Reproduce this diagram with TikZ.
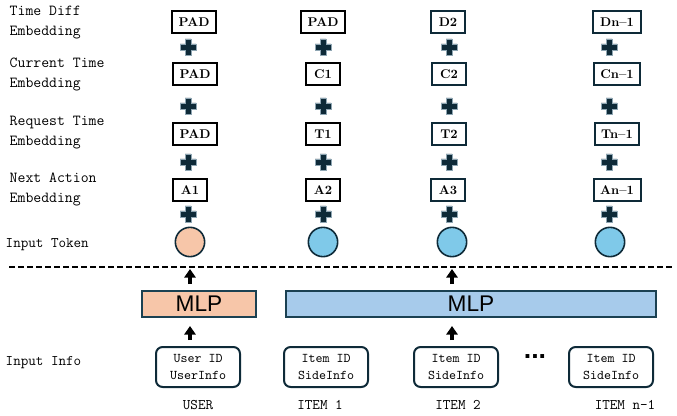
\documentclass[tikz,border=0pt]{standalone}
\usepackage{fontspec}
\setsansfont{Liberation Sans}
\usetikzlibrary{arrows.meta}

\definecolor{navy}{HTML}{0E2A38}
\definecolor{mlpline}{HTML}{1B4152}
\definecolor{peach}{HTML}{F7C6A9}
\definecolor{tokblue}{HTML}{7FC9E9}
\definecolor{mlpblue}{HTML}{A7CBEB}
\definecolor{plusrim}{HTML}{8FA6B3}

\tikzset{
    emb/.style={draw=black, line width=1.5pt, minimum width=26pt,
        minimum height=17pt, inner xsep=5pt,
        font=\fontsize{9.5}{10}\selectfont\bfseries},
    embn/.style={emb, draw=navy},
    tok/.style={circle, draw=navy, line width=1.2pt, minimum size=22pt,
        inner sep=0pt},
    mlp/.style={draw=mlpline, line width=1.5pt, minimum height=19.5pt,
        font=\sffamily\fontsize{17}{17}\selectfont},
    info/.style={draw=navy, rounded corners=5pt, line width=1.5pt,
        minimum width=63pt, minimum height=30pt, align=center,
        font=\ttfamily\fontsize{10}{12.75}\selectfont},
    lbl/.style={anchor=west, align=left,
        font=\ttfamily\fontsize{11.5}{15}\selectfont},
    itemcap/.style={font=\ttfamily\fontsize{11}{13}\selectfont},
    uparrow/.style={line width=2.4pt, -{Triangle[width=8.5pt,length=6.5pt]}}
}

% thick plus mark, centred on the given point
\newcommand{\plusmark}[1]{
    \filldraw[fill=navy, draw=plusrim, line width=0.5pt] (#1)
    ++(-3,-8) -- ++(6,0) -- ++(0,5) -- ++(5,0) -- ++(0,6)
    -- ++(-5,0) -- ++(0,5) -- ++(-6,0) -- ++(0,-5)
    -- ++(-5,0) -- ++(0,-6) -- ++(5,0) -- cycle;
}

\begin{document}
\begin{tikzpicture}[x=0.75pt, y=-0.75pt]
        \useasboundingbox (0, 0) rectangle (677, 416);
        % row labels
        \node[lbl] (ldiff) at (5, 23) {Time Diff\\Embedding};
        \node[lbl] (lcur) at (5, 74) {Current Time\\Embedding};
        \node[lbl] (lreq) at (5, 133) {Request Time\\Embedding};
        \node[lbl] (lnext) at (5, 189) {Next Action\\Embedding};
        \node[lbl, font=\ttfamily\fontsize{11}{13}\selectfont] (ltok) at (1, 245) {Input Token};
        \node[lbl, font=\ttfamily\fontsize{11}{13}\selectfont] (linfo) at (1, 363) {Input Info};
        % embedding boxes
        \node[emb] (d1) at (194, 22) {PAD};
        \node[emb] (d2) at (323, 22) {PAD};
        \node[embn] (d3) at (448, 22) {D2};
        \node[embn] (d4) at (617, 22) {Dn--1};
        \node[emb] (c1) at (195, 74) {PAD};
        \node[emb] (c2) at (323, 74) {C1};
        \node[embn] (c3) at (449, 74) {C2};
        \node[embn] (c4) at (617, 74) {Cn--1};
        \node[emb] (t1) at (195, 134) {PAD};
        \node[emb] (t2) at (323, 134) {T1};
        \node[embn] (t3) at (449, 134) {T2};
        \node[embn] (t4) at (617, 134) {Tn--1};
        \node[emb] (a1) at (190, 190) {A1};
        \node[emb] (a2) at (323, 190) {A2};
        \node[embn] (a3) at (448, 190) {A3};
        \node[embn] (a4) at (617, 190) {An--1};
        % plus marks
        \plusmark{188, 47} \plusmark{323, 47} \plusmark{449, 47} \plusmark{609, 47}
        \plusmark{188, 106} \plusmark{323, 106} \plusmark{449, 106} \plusmark{609, 106}
        \plusmark{188, 162} \plusmark{323, 162} \plusmark{449, 162} \plusmark{609, 162}
        \plusmark{188, 214} \plusmark{323, 214} \plusmark{449, 214} \plusmark{609, 214}
        % input tokens
        \node[tok, fill=peach] (tok1) at (190, 242) {};
        \node[tok, fill=tokblue] (tok2) at (323, 242) {};
        \node[tok, fill=tokblue] (tok3) at (452, 242) {};
        \node[tok, fill=tokblue] (tok4) at (610, 242) {};
        % separator
        \coordinate (sepl) at (9, 267);
        \coordinate (sepr) at (673, 267);
        \draw[line width=1.5pt, dash pattern=on 4.5pt off 2.25pt] (sepl) -- (sepr);
        % encoders
        \node[mlp, fill=peach, minimum width=85.5pt] (mlp1) at (199, 304) {MLP};
        \node[mlp, fill=mlpblue, minimum width=277.5pt] (mlp2) at (471, 304) {MLP};
        % input info
        \node[info] (info1) at (198, 367) {User ID\\UserInfo};
        \node[info] (info2) at (326, 367) {Item ID\\SideInfo};
        \node[info] (info3) at (456, 367) {Item ID\\SideInfo};
        \node[info] (info4) at (611, 367) {Item ID\\SideInfo};
        \node[font=\sffamily\bfseries\fontsize{20}{20}\selectfont] (dots) at (535, 357) {...};
        \node[itemcap] (user) at (198, 405) {USER};
        \node[itemcap] (item1) at (320, 405) {ITEM 1};
        \node[itemcap] (item2) at (458, 405) {ITEM 2};
        \node[itemcap] (itemn) at (625, 405) {ITEM n-1};
        % arrows
        \coordinate (cut1) at (tok1 |- sepl);
        \coordinate (cut3) at (tok3 |- sepl);
        \draw[uparrow, shorten <=4.5pt, shorten >=6pt] (info1.north -| tok1) -- (mlp1.south -| tok1);
        \draw[uparrow, shorten <=4.5pt, shorten >=6pt] (info3.north -| tok3) -- (mlp2.south -| tok3);
        \draw[uparrow, shorten <=4.5pt, shorten >=1.5pt] (mlp1.north -| tok1) -- (cut1);
        \draw[uparrow, shorten <=4.5pt, shorten >=1.5pt] (mlp2.north -| tok3) -- (cut3);
    \end{tikzpicture}
\end{document}
